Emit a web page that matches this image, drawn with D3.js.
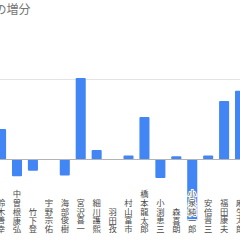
<!DOCTYPE html>
<html>
<head>
<meta charset="utf-8">
<script src="https://cdn.jsdelivr.net/npm/d3@7"></script>
<style>
  body { margin: 0; background: #fff; }
  svg { display: block; font-family: "Noto Sans CJK JP", "Noto Sans", sans-serif; }
</style>
</head>
<body>
<svg id="chart" width="240" height="240"></svg>
<script>
const names = ["鈴木善幸", "中曽根康弘", "竹下登", "宇野宗佑", "海部俊樹", "宮沢喜一", "細川護熙", "羽田孜",
    "村山富市", "橋本龍太郎", "小渕恵三", "森喜朗", "小泉純一郎", "安倍晋三", "福田康夫", "麻生太郎"];
const values = [3.8, -2.1, -1.4, 0, -2.0, 10.2, 1.2, 0, 0.5, 5.3, -2.3, 0.4, -7.7, 0.5, 7.3, 8.6];
const gridTicks = [10];
const title = "在任日数の増分";

const svg = d3.select("#chart");

// the chart is wider than the window, left part is cut off
const x = d3.scaleBand()
    .domain(names)
    .range([-6.9, 248])
    .paddingInner(0.37)
    .paddingOuter(0.185);

const y = d3.scaleLinear()
    .domain([0, 10])
    .range([159.5, 79.5]);

svg.append("text")
    .attr("x", 30.5)
    .attr("y", 14)
    .attr("text-anchor", "end")
    .attr("fill", "#757575")
    .style("font-size", "12px")
    .text(title);

svg.append("g")
    .selectAll("line")
    .data(gridTicks)
    .join("line")
    .attr("x1", 0).attr("x2", 240)
    .attr("y1", d => Math.round(y(d)) - 0.5)
    .attr("y2", d => Math.round(y(d)) - 0.5)
    .attr("stroke", "#e3e3e3");

svg.append("g")
    .attr("fill", "#4285f4")
    .selectAll("rect")
    .data(values)
    .join("rect")
    .attr("x", (d, i) => x(names[i]))
    .attr("width", x.bandwidth())
    .attr("y", d => y(Math.max(0, d)))
    .attr("height", d => Math.abs(y(d) - y(0)))
    .attr("rx", 1);

// vertical labels, white halo so they read over the negative bar
svg.append("g")
    .attr("fill", "#4a4a4a")
    .attr("text-anchor", "end")
    .style("font-size", "8.3px")
    .style("writing-mode", "vertical-rl")
    .style("letter-spacing", "0.6px")
    .selectAll("text")
    .data(names)
    .join("text")
    .attr("x", d => x(d) + x.bandwidth() / 2)
    .attr("y", 234)
    .attr("stroke", "#fff")
    .attr("stroke-width", 2)
    .attr("paint-order", "stroke")
    .text(d => d);

svg.append("line")
    .attr("x1", 0).attr("x2", 240)
    .attr("y1", y(0)).attr("y2", y(0))
    .attr("stroke", "#b3b3b3");
</script>
</body>
</html>
